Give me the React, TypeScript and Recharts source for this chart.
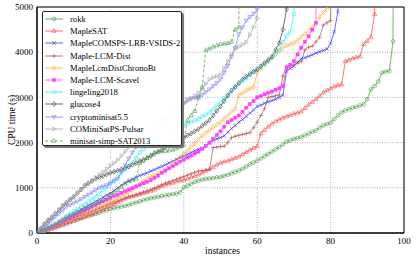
import { LineChart, Line, XAxis, YAxis, CartesianGrid, ReferenceArea } from "recharts";

const FONT = "'Liberation Serif', 'DejaVu Serif', serif";

// cactus data: value at index i = CPU time of the i-th solved instance (last point = timeout, off chart)
const rokk = [
  0, 20, 45, 70, 100, 130, 155, 185, 210, 240,
  270, 295, 320, 350, 375, 400, 425, 450, 480, 505,
  530, 550, 565, 585, 600, 620, 650, 675, 700, 725,
  750, 770, 785, 800, 815, 830, 845, 860, 870, 900,
  1010, 1050, 1090, 1130, 1160, 1180, 1195, 1205, 1215, 1230,
  1240, 1265, 1290, 1320, 1350, 1380, 1420, 1470, 1520, 1560,
  1600, 1650, 1700, 1750, 1800, 1850, 1900, 1960, 2020, 2050,
  2080, 2100, 2120, 2160, 2200, 2240, 2270, 2330, 2380, 2410,
  2440, 2520, 2600, 2670, 2710, 2740, 2770, 2790, 2820, 2850,
  2960, 3180, 3250, 3350, 3550, 3570, 3580, 4240, 20000,
];
const mapleSat = [
  0, 25, 50, 75, 95, 120, 150, 180, 210, 240,
  270, 300, 330, 360, 390, 420, 455, 490, 530, 565,
  600, 640, 680, 720, 760, 790, 810, 830, 855, 880,
  900, 930, 960, 1000, 1040, 1070, 1090, 1110, 1140, 1160,
  1180, 1200, 1230, 1260, 1290, 1330, 1380, 1420, 1460, 1510,
  1550, 1580, 1600, 1630, 1660, 1690, 1740, 1790, 1840, 1880,
  1920, 2200, 2280, 2350, 2420, 2470, 2510, 2550, 2580, 2610,
  2640, 2660, 2690, 2760, 2840, 2900, 2960, 3030, 3110, 3160,
  3200, 3240, 3270, 3290, 3800, 3830, 3860, 3890, 3910, 4180,
  4250, 4330, 4840, 20000,
];
const lrbVsids = [
  0, 30, 70, 100, 140, 180, 230, 280, 330, 380,
  420, 470, 520, 560, 610, 650, 700, 740, 790, 840,
  880, 940, 1000, 1060, 1110, 1150, 1190, 1230, 1270, 1300,
  1330, 1370, 1400, 1440, 1470, 1510, 1550, 1590, 1630, 1670,
  1700, 1740, 1780, 1820, 1850, 1880, 1930, 1990, 2050, 2080,
  2110, 2150, 2230, 2310, 2380, 2450, 2510, 2580, 2650, 2720,
  2800, 2830, 2870, 2900, 2930, 2960, 3000, 3050, 3580, 3640,
  3690, 3780, 3850, 3880, 3910, 3940, 3980, 4010, 4040, 4070,
  4200, 4450, 4900, 20000,
];
const lcmDist = [
  0, 30, 60, 90, 120, 150, 185, 220, 260, 295,
  330, 360, 390, 420, 450, 480, 510, 545, 580, 615,
  650, 680, 710, 740, 770, 800, 825, 850, 880, 905,
  930, 960, 995, 1030, 1065, 1100, 1130, 1160, 1190, 1220,
  1250, 1280, 1310, 1340, 1370, 1380, 1390, 1400, 1890, 1900,
  1910, 1920, 2000, 2110, 2140, 2160, 2180, 2200, 2220, 2330,
  2450, 2600, 2750, 3000, 3020, 3035, 3050, 3470, 3690, 3700,
  3720, 3760, 3800, 4050, 4110, 4130, 4230, 4330, 4600, 4650,
  4700, 20000,
];
const chronoBt = [
  0, 25, 55, 85, 115, 150, 190, 230, 270, 310,
  350, 380, 410, 440, 470, 500, 535, 570, 605, 640,
  680, 720, 770, 810, 860, 900, 960, 1020, 1080, 1140,
  1200, 1240, 1280, 1320, 1360, 1400, 1460, 1530, 1600, 1680,
  1750, 1830, 1900, 1980, 2070, 2150, 2220, 2280, 2340, 2400,
  2450, 2520, 2600, 2680, 2750, 3050, 3100, 3150, 3190, 3230,
  3550, 3650, 3740, 3810, 3880, 3950, 4020, 4090, 4150, 4170,
  4200, 4260, 4330, 4400, 4480, 4560, 4640, 4780, 4880, 4950,
  20000,
];
const scavel = [
  0, 30, 65, 100, 140, 180, 220, 260, 300, 340,
  380, 420, 460, 500, 540, 580, 620, 660, 700, 740,
  780, 820, 850, 890, 925, 960, 990, 1030, 1060, 1100,
  1130, 1170, 1220, 1270, 1330, 1380, 1430, 1480, 1530, 1580,
  1620, 1670, 1710, 1760, 1800, 1860, 1930, 2000, 2080, 2170,
  2250, 2350, 2450, 2500, 2550, 2600, 2680, 2770, 2850, 2920,
  3000, 3030, 3070, 3100, 3130, 3170, 3200, 3250, 3650, 3720,
  3800, 3950, 4100, 4230, 4350, 4500, 4650, 20000,
];
const lingeling = [
  0, 40, 80, 120, 160, 200, 250, 310, 370, 420,
  480, 530, 590, 640, 700, 750, 810, 870, 950, 1020,
  1100, 1170, 1240, 1320, 1400, 1470, 1560, 1660, 1780, 1850,
  1920, 1990, 2050, 2100, 2140, 2180, 2220, 2250, 2290, 2330,
  2380, 2420, 2450, 2490, 2520, 2570, 2620, 2670, 2740, 2820,
  2900, 2980, 3060, 3150, 3230, 3300, 3370, 3430, 3500, 3560,
  3620, 3680, 3740, 3800, 3880, 3960, 4050, 4220, 4360, 4450,
  4840, 20000,
];
const glucose = [
  0, 100, 200, 280, 350, 430, 510, 600, 670, 740,
  800, 880, 960, 1050, 1100, 1150, 1200, 1230, 1260, 1300,
  1330, 1355, 1380, 1410, 1440, 1470, 1510, 1550, 1590, 1620,
  1660, 1700, 1750, 1800, 1840, 1890, 1940, 1980, 2030, 2070,
  2110, 2160, 2200, 2250, 2300, 2370, 2430, 2500, 2600, 2700,
  2800, 2920, 3040, 3150, 3230, 3320, 3400, 3460, 3520, 3570,
  3620, 3690, 3760, 3830, 3900, 4050, 4200, 4500, 4950, 20000,
];
const crypto = [
  0, 60, 130, 200, 280, 360, 430, 500, 580, 620,
  660, 700, 750, 800, 850, 900, 950, 1000, 1030, 1060,
  1100, 1150, 1200, 1350, 1500, 1650, 1780, 1900, 1970, 2040,
  2100, 2170, 2230, 2300, 2390, 2480, 2570, 2650, 2720, 2800,
  2880, 2950, 2970, 2990, 3000, 3060, 3120, 3180, 3250, 3320,
  3400, 3550, 3700, 3900, 4100, 4400, 4550, 4700, 4780, 4850,
  4950, 20000,
];
const pulsar = [
  0, 80, 170, 250, 330, 420, 500, 580, 650, 730,
  800, 880, 950, 1030, 1100, 1160, 1230, 1290, 1350, 1420,
  1490, 1550, 1620, 1710, 1800, 1900, 2000, 2050, 2100, 2140,
  2210, 2280, 2360, 2430, 2500, 2560, 2620, 2680, 2730, 2800,
  2860, 2920, 2980, 3040, 3100, 3200, 3300, 3400, 3440, 3470,
  3500, 3650, 3800, 3950, 4070, 4120, 4170, 4220, 4380, 4550,
  4750, 20000,
];
const minisatSimp = [
  0, 40, 75, 110, 150, 200, 250, 300, 350, 390,
  430, 470, 500, 540, 580, 620, 660, 700, 730, 790,
  850, 900, 950, 1020, 1090, 1150, 1170, 1200, 1550, 1600,
  1660, 1720, 1780, 1795, 1805, 1815, 1825, 1840, 1870, 1910,
  1950, 2500, 2600, 2700, 3000, 3220, 4050, 4080, 4120, 4150,
  4180, 4190, 4200, 4230, 4500, 4550, 20000,
];

const X_TICKS = [0, 20, 40, 60, 80, 100];
const Y_TICKS = [0, 1000, 2000, 3000, 4000, 5000];

type Shape = "circle" | "triUp" | "triDown" | "triRight" | "diamond" | "square" | "cross" | "plus";

const SERIES: { name: string; color: string; shape: Shape; dashed?: boolean; values: number[] }[] = [
  { name: "rokk", color: "#44a044", shape: "circle", values: rokk },
  { name: "MapleSAT", color: "#ff4848", shape: "triUp", values: mapleSat },
  { name: "MapleCOMSPS-LRB-VSIDS-2", color: "#3838ff", shape: "cross", values: lrbVsids },
  { name: "Maple-LCM-Dist", color: "#b05a5a", shape: "plus", values: lcmDist },
  { name: "MapleLcmDistChronoBt", color: "#ffaa33", shape: "diamond", values: chronoBt },
  { name: "Maple-LCM-Scavel", color: "#ff40ff", shape: "square", values: scavel },
  { name: "lingeling2018", color: "#30f0f0", shape: "circle", values: lingeling },
  { name: "glucose4", color: "#444444", shape: "diamond", values: glucose },
  { name: "cryptominisat5.5", color: "#8080ff", shape: "triDown", values: crypto },
  { name: "COMiniSatPS-Pulsar", color: "#aaaaaa", shape: "triRight", values: pulsar },
  { name: "minisat-simp-SAT2013", color: "#44a044", shape: "triUp", dashed: true, values: minisatSimp },
];

function Marker({ cx, cy, shape, color }: { cx: number; cy: number; shape: Shape; color: string }) {
  const sw = 0.6;
  switch (shape) {
    case "circle":
      return <circle cx={cx} cy={cy} r={1.9} fill="none" stroke={color} strokeWidth={sw} />;
    case "triUp":
      return <polygon points={`${cx},${cy - 2.3} ${cx - 2.1},${cy + 1.4} ${cx + 2.1},${cy + 1.4}`} fill="none" stroke={color} strokeWidth={sw} />;
    case "triDown":
      return <polygon points={`${cx},${cy + 2.3} ${cx - 2.1},${cy - 1.4} ${cx + 2.1},${cy - 1.4}`} fill="none" stroke={color} strokeWidth={sw} />;
    case "triRight":
      return <polygon points={`${cx + 2.3},${cy} ${cx - 1.4},${cy - 2.1} ${cx - 1.4},${cy + 2.1}`} fill="none" stroke={color} strokeWidth={sw} />;
    case "diamond":
      return <polygon points={`${cx},${cy - 2.5} ${cx + 1.8},${cy} ${cx},${cy + 2.5} ${cx - 1.8},${cy}`} fill="none" stroke={color} strokeWidth={sw} />;
    case "square":
      return <rect x={cx - 1.6} y={cy - 1.6} width={3.2} height={3.2} fill={color} stroke={color} strokeWidth={0.4} />;
    case "cross":
      return (
        <g stroke={color} strokeWidth={sw}>
          <line x1={cx - 1.8} y1={cy - 1.8} x2={cx + 1.8} y2={cy + 1.8} />
          <line x1={cx - 1.8} y1={cy + 1.8} x2={cx + 1.8} y2={cy - 1.8} />
        </g>
      );
    case "plus":
      return (
        <g stroke={color} strokeWidth={sw}>
          <line x1={cx - 2.2} y1={cy} x2={cx + 2.2} y2={cy} />
          <line x1={cx} y1={cy - 2.2} x2={cx} y2={cy + 2.2} />
        </g>
      );
  }
  return null;
}

function ChartLegend() {
  return (
    <div
      style={{
        position: "absolute", left: 42, top: 11, width: 140, height: 135,
        background: "rgba(255,255,255,0.95)", border: "1px solid #222", borderRadius: 2,
        boxShadow: "2px 2px 0 #777", fontFamily: FONT, fontSize: 8.6, color: "#000",
        paddingTop: 1, boxSizing: "border-box",
      }}
    >
      {SERIES.map((s) => (
        <div key={s.name} style={{ height: 12.2, display: "flex", alignItems: "center", whiteSpace: "nowrap" }}>
          <svg width={18} height={8} style={{ marginLeft: 2, marginRight: 7, overflow: "visible" }}>
            <line x1={0} y1={4} x2={18} y2={4} stroke={s.color} strokeWidth={0.8} strokeDasharray={s.dashed ? "3 2" : undefined} />
            <Marker cx={9} cy={4} shape={s.shape} color={s.color} />
          </svg>
          <span>{s.name}</span>
        </div>
      ))}
    </div>
  );
}

const titleStyle = { position: "absolute" as const, fontFamily: FONT, fontSize: 9.5, color: "#000", whiteSpace: "nowrap" as const, lineHeight: "10px" };

export default function App() {
  return (
    <div style={{ position: "absolute", left: 0, top: 0, width: 416, height: 261, background: "#fff" }}>
      <LineChart width={416} height={261} margin={{ top: 7, right: 12, left: 0, bottom: 0 }}>
        <CartesianGrid stroke="#999" strokeDasharray="1 1.5" strokeWidth={0.8} />
        <XAxis
          type="number" dataKey="x" domain={[0, 100]} ticks={X_TICKS} allowDataOverflow
          height={28} tickSize={0} tickMargin={5} axisLine={{ stroke: "#000" }} tickLine={false}
          tick={{ fontFamily: FONT, fontSize: 9, fill: "#000" }}
        />
        <YAxis
          type="number" domain={[0, 5000]} ticks={Y_TICKS} allowDataOverflow
          width={37} tickSize={0} tickMargin={4} axisLine={{ stroke: "#000" }} tickLine={false}
          tick={{ fontFamily: FONT, fontSize: 9, fill: "#000" }}
        />
        {SERIES.map((s) => (
          <Line
            key={s.name}
            data={s.values.map((y, x) => ({ x, y }))}
            dataKey="y"
            name={s.name}
            type="linear"
            stroke={s.color}
            strokeWidth={0.75}
            strokeDasharray={s.dashed ? "3 2" : undefined}
            isAnimationActive={false}
            activeDot={false}
            dot={(p: any) => <Marker key={`${s.name}-${p.index}`} cx={p.cx} cy={p.cy} shape={s.shape} color={s.color} />}
          />
        ))}
        <ReferenceArea x1={0} x2={100} y1={0} y2={5000} fill="none" stroke="#000" strokeWidth={1} fillOpacity={0} />
      </LineChart>
      <div style={{ ...titleStyle, left: 205, top: 246 }}>instances</div>
      <div style={{ ...titleStyle, left: 12, top: 120, transform: "translate(-50%, -50%) rotate(-90deg)" }}>CPU time (s)</div>
      <ChartLegend />
    </div>
  );
}
